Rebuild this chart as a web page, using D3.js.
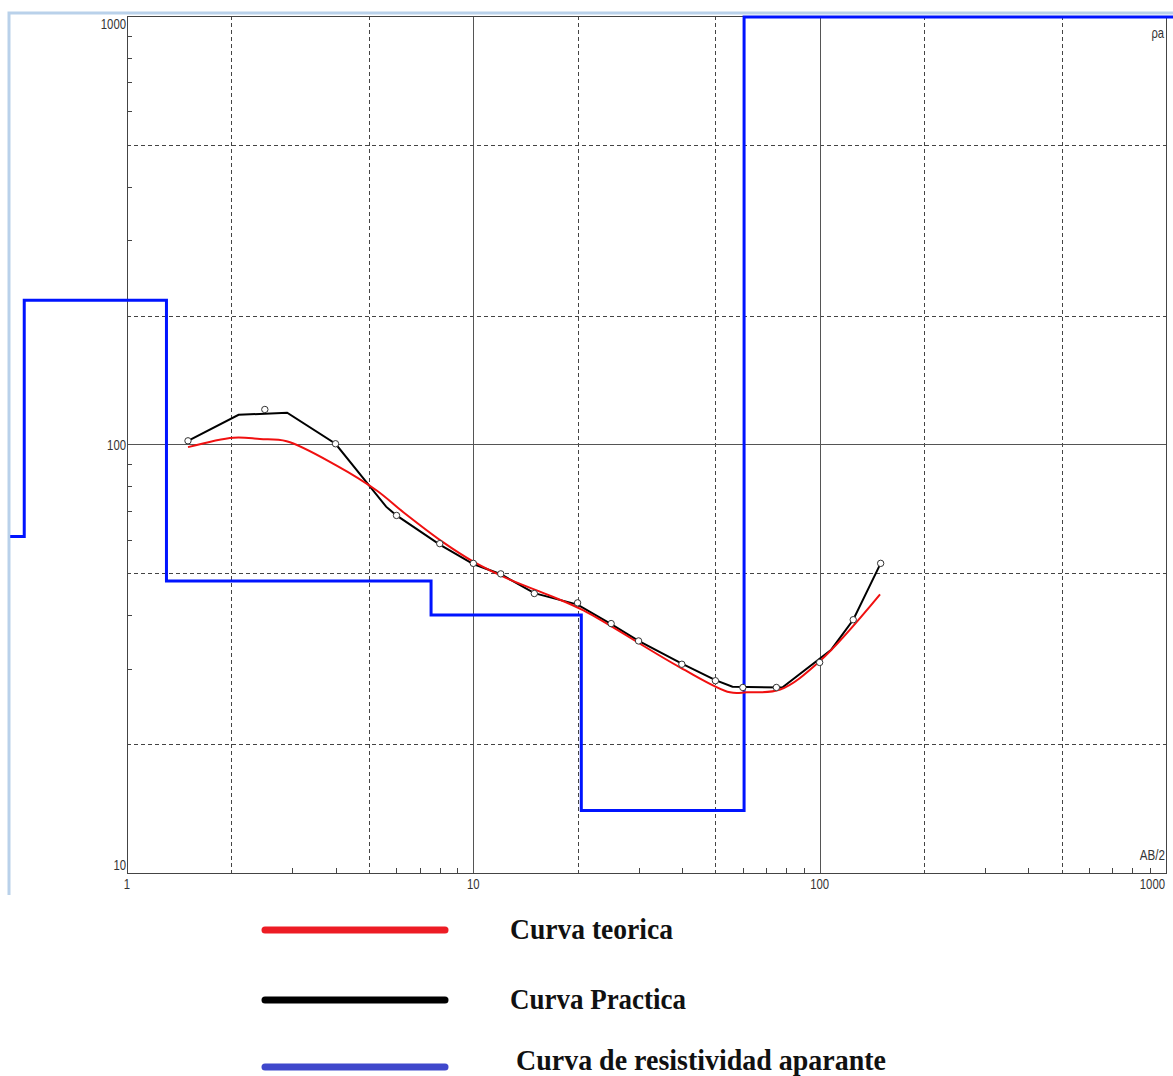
<!DOCTYPE html>
<html>
<head>
<meta charset="utf-8">
<script src="https://cdn.jsdelivr.net/npm/d3@7"></script>
<style>
  body { margin: 0; background: #fff; }
  svg { display: block; }
</style>
</head>
<body>
<svg width="1173" height="1076"></svg>
<script>
// Field measurements (AB/2 in m, apparent resistivity in ohm.m)
const abHalf = [1.5, 2.5, 4, 6, 8, 10, 12, 15, 20, 25, 30, 40, 50, 60, 75, 100, 125, 150];
const rhoField = [102, 120.7, 100.4, 68.3, 58.7, 52.8, 49.9, 44.9, 42.7, 38.2, 34.8, 30.7, 28.1, 27.1, 27.1, 31.0, 39.0, 52.8];

// Curva Practica (black)
const practX = [1.5, 2.1, 2.9, 4, 5.6, 6, 8, 10, 12, 15, 20, 25, 30, 40, 50, 56, 78, 108, 125, 150];
const practRho = [102, 117.3, 118.6, 100.4, 71.6, 68.3, 58.4, 52.6, 49.8, 45, 42.3, 38.1, 34.8, 30.8, 28.2, 27.2, 27.1, 33.2, 39, 52.8];

// Curva teorica (red)
const teorX = [1.5, 2.03, 2.42, 2.89, 4.03, 5.26, 6.28, 8.19, 10, 12.8, 16.65, 20.8, 39.5, 55.1, 61.6, 76.9, 100, 149.4];
const teorRho = [98.6, 103.7, 103, 101.8, 89.3, 78.1, 69.5, 59.1, 53.3, 48.3, 44.4, 41.0, 30.2, 26.4, 26.4, 26.8, 31.2, 44.7];

// Layer model (blue step curve): layer start depth and resistivity
const layerTop = [0.46, 0.505, 1.3, 7.55, 20.5, 60.5];
const layerRho = [61, 217, 48, 40, 14, 995];
const layerEnd = 1050;

// ticks
const xLabels = [1, 10, 100, 1000];
const yLabels = [10, 100, 1000];

const legendLabels = ["Curva teorica", "Curva Practica", "Curva de resistividad aparante"];
const legendColors = ["#ed1c24", "#000000", "#3f48cc"];
const legendWidths = [163, 176, 370];

const svg = d3.select("svg");
const pLeft = 127, pRight = 1166, pTop = 16, pBottom = 873;

const x = d3.scaleLog().domain([1, 1000]).range([pLeft, pRight]);
const y = d3.scaleLog().domain([10, 1000]).range([pBottom, pTop]);

// window frame (light blue)
svg.append("path")
  .attr("d", `M9,895 V13 H1173`)
  .attr("fill", "none")
  .attr("stroke", "#b9d1ea")
  .attr("stroke-width", 3);

// grid positions: 2 and 5 of every decade dashed, decades solid
const decadesX = [1, 10, 100];
const decadesY = [10, 100];
const dashX = decadesX.flatMap(d => [2 * d, 5 * d]);
const dashY = decadesY.flatMap(d => [2 * d, 5 * d]);
const minorX = decadesX.flatMap(d => [3, 4, 6, 7, 8, 9].map(m => m * d));
const minorY = decadesY.flatMap(d => [3, 4, 6, 7, 8, 9].map(m => m * d));

const grid = svg.append("g");
grid.selectAll(".gx").data(dashX).enter().append("line")
  .attr("x1", d => Math.round(x(d)) + 0.5).attr("x2", d => Math.round(x(d)) + 0.5)
  .attr("y1", pTop).attr("y2", pBottom)
  .attr("stroke", "#444").attr("stroke-dasharray", "4,3");
grid.selectAll(".gy").data(dashY).enter().append("line")
  .attr("y1", d => Math.round(y(d)) + 0.5).attr("y2", d => Math.round(y(d)) + 0.5)
  .attr("x1", pLeft).attr("x2", pRight)
  .attr("stroke", "#444").attr("stroke-dasharray", "4,3");
grid.selectAll(".sx").data([10, 100]).enter().append("line")
  .attr("x1", d => Math.round(x(d)) + 0.5).attr("x2", d => Math.round(x(d)) + 0.5)
  .attr("y1", pTop).attr("y2", pBottom)
  .attr("stroke", "#555");
grid.selectAll(".sy").data([100]).enter().append("line")
  .attr("y1", d => Math.round(y(d)) + 0.5).attr("y2", d => Math.round(y(d)) + 0.5)
  .attr("x1", pLeft).attr("x2", pRight)
  .attr("stroke", "#555");

// minor ticks
grid.selectAll(".tx").data(minorX).enter().append("line")
  .attr("x1", d => Math.round(x(d)) + 0.5).attr("x2", d => Math.round(x(d)) + 0.5)
  .attr("y1", pBottom).attr("y2", pBottom - 5)
  .attr("stroke", "#444");
grid.selectAll(".ty").data(minorY).enter().append("line")
  .attr("y1", d => Math.round(y(d)) + 0.5).attr("y2", d => Math.round(y(d)) + 0.5)
  .attr("x1", pLeft).attr("x2", pLeft + 5)
  .attr("stroke", "#444");

// frame
svg.append("rect")
  .attr("x", pLeft + 0.5).attr("y", pTop + 0.5)
  .attr("width", pRight - pLeft).attr("height", pBottom - pTop)
  .attr("fill", "none").attr("stroke", "#444");

// tick labels (narrow digits like the original)
const tickFont = "'Liberation Sans', Arial, sans-serif";
function narrow(sel) {
  sel.attr("font-family", tickFont).attr("font-size", 15).attr("fill", "#333")
    .attr("lengthAdjust", "spacingAndGlyphs")
    .attr("textLength", d => String(d).length * 6.3);
}
svg.selectAll(".yl").data(yLabels).enter().append("text")
  .attr("x", pLeft - 1)
  .attr("y", d => Math.min(Math.max(y(d), pTop + 8), pBottom - 8))
  .attr("dy", "0.35em")
  .attr("text-anchor", "end")
  .call(narrow)
  .text(d => d);
svg.selectAll(".xl").data(xLabels).enter().append("text")
  .attr("x", d => d === 1000 ? pRight - 1 : x(d))
  .attr("y", pBottom + 11)
  .attr("dy", "0.35em")
  .attr("text-anchor", d => d === 1000 ? "end" : "middle")
  .call(narrow)
  .text(d => d);
svg.append("text").datum("ρa")
  .attr("x", pRight - 2).attr("y", pTop + 22)
  .attr("text-anchor", "end")
  .call(narrow)
  .text(d => d);
svg.append("text").datum("AB/2")
  .attr("x", pRight - 1).attr("y", pBottom - 13)
  .attr("text-anchor", "end")
  .call(narrow)
  .text(d => d);

// blue step curve
const stepPts = layerTop.map((d, i) => [d, layerRho[i]]);
stepPts.push([layerEnd, layerRho[layerRho.length - 1]]);
svg.append("path")
  .datum(stepPts)
  .attr("fill", "none")
  .attr("stroke", "#0014ff")
  .attr("stroke-width", 3)
  .attr("d", d3.line().x(d => x(d[0])).y(d => y(d[1])).curve(d3.curveStepAfter));

// black practical curve
svg.append("path")
  .datum(practX.map((d, i) => [d, practRho[i]]))
  .attr("fill", "none")
  .attr("stroke", "#000")
  .attr("stroke-width", 2)
  .attr("d", d3.line().x(d => x(d[0])).y(d => y(d[1])));

// red theoretical curve
svg.append("path")
  .datum(teorX.map((d, i) => [d, teorRho[i]]))
  .attr("fill", "none")
  .attr("stroke", "#f01010")
  .attr("stroke-width", 2)
  .attr("d", d3.line().x(d => x(d[0])).y(d => y(d[1])).curve(d3.curveCatmullRom));

// field points
svg.selectAll(".pt").data(abHalf).enter().append("circle")
  .attr("cx", d => x(d))
  .attr("cy", (d, i) => y(rhoField[i]))
  .attr("r", 3.2)
  .attr("fill", "#fff")
  .attr("stroke", "#333")
  .attr("stroke-width", 1);

// legend
const legY = [930, 1000, 1067];
const legTextY = [929, 999, 1060];
const legTextX = [510, 510, 516];
const legend = svg.append("g");
legend.selectAll("line").data(legendLabels).enter().append("line")
  .attr("x1", 265).attr("x2", 445)
  .attr("y1", (d, i) => legY[i]).attr("y2", (d, i) => legY[i])
  .attr("stroke", (d, i) => legendColors[i])
  .attr("stroke-width", 7)
  .attr("stroke-linecap", "round");
legend.selectAll("text").data(legendLabels).enter().append("text")
  .attr("x", (d, i) => legTextX[i])
  .attr("y", (d, i) => legTextY[i])
  .attr("dy", "0.33em")
  .attr("font-family", "'Liberation Serif', 'DejaVu Serif', serif")
  .attr("font-weight", "bold")
  .attr("font-size", 29)
  .attr("fill", "#111")
  .attr("lengthAdjust", "spacingAndGlyphs")
  .attr("textLength", (d, i) => legendWidths[i])
  .text(d => d);
</script>
</body>
</html>
